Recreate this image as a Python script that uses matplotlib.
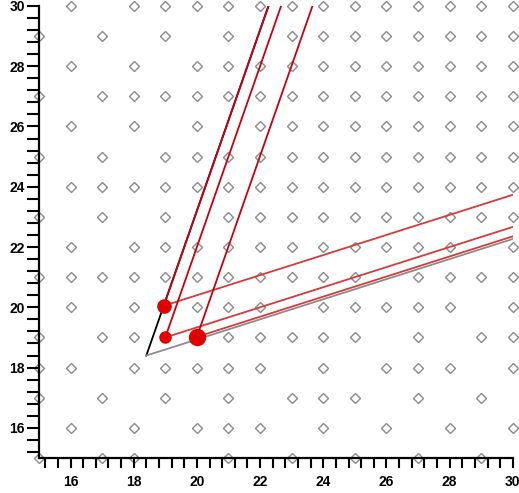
import numpy as np
import matplotlib
matplotlib.use("Agg")
import matplotlib.pyplot as plt
from matplotlib.ticker import FixedLocator

# grille de losanges : pour chaque ligne y, les x presents
grille = {
    30: [16, 18, 19, 20, 21, 22, 23, 24, 25, 26, 27, 28, 29, 30],
    29: [15, 17, 19, 21, 23, 24, 25, 26, 27, 28, 29, 30],
    28: [16, 18, 20, 21, 22, 23, 24, 25, 26, 27, 28, 29, 30],
    27: [15, 17, 18, 19, 20, 21, 22, 23, 24, 25, 26, 27, 28, 29, 30],
    26: [16, 18, 20, 22, 23, 24, 25, 26, 27, 28, 29, 30],
    25: [15, 17, 19, 20, 21, 22, 23, 24, 25, 26, 27, 28, 29, 30],
    24: [16, 17, 18, 19, 20, 21, 22, 23, 24, 25, 26, 27, 28, 29, 30],
    23: [15, 17, 19, 21, 22, 23, 24, 25, 26, 27, 28, 29, 30],
    22: [16, 18, 19, 20, 21, 22, 23, 24, 25, 26, 27, 28, 30],
    21: [15, 16, 17, 18, 19, 20, 21, 22, 23, 24, 25, 27, 28, 29, 30],
    20: [16, 18, 19, 20, 21, 22, 24, 25, 26, 27, 28, 30],
    19: [15, 17, 18, 19, 20, 21, 22, 23, 24, 25, 27, 29, 30],
    18: [15, 16, 18, 19, 20, 21, 22, 24, 26, 27, 28, 30],
    17: [15, 17, 19, 21, 23, 24, 25, 27, 29],
    16: [16, 18, 20, 21, 22, 24, 26, 28, 30],
    15: [15, 17, 18, 21, 23, 25, 27, 29],
}

# sommet des deux droites de reference et leurs pentes
sommet = (18.4, 18.4)
pente_raide = 3.0
pente_douce = 1.0 / 3.0

# points rouges
points_x = [18.95, 19.0, 20.0]
points_y = [20.05, 19.0, 19.02]
tailles = [9.5, 8, 11.5]

fig = plt.figure(figsize=(5.19, 4.93), dpi=100)
ax = fig.add_axes([0.075, 0.071, 0.913, 0.917])

gx = [x for y in grille for x in grille[y]]
gy = [y for y in grille for x in grille[y]]
ax.plot(gx, gy, linestyle="none", marker="D", markersize=4.6, markerfacecolor="none",
        markeredgecolor="#8a8a8a", markeredgewidth=1.0, clip_on=False, zorder=1)

longueur = 20.0
# droite noire (raide) et grise (douce) depuis le sommet
ax.plot([sommet[0], sommet[0] + longueur], [sommet[1], sommet[1] + pente_raide * longueur],
        color="black", lw=1.3, zorder=2)
ax.plot([sommet[0], sommet[0] + longueur], [sommet[1], sommet[1] + pente_douce * longueur],
        color="#8c8c8c", lw=1.3, zorder=2)

for px, py in zip(points_x, points_y):
    ax.plot([px, px + longueur], [py, py + pente_raide * longueur], color="#c80010", lw=1.3, zorder=3)
    ax.plot([px, px + longueur], [py, py + pente_douce * longueur], color="#d83a3a", lw=1.3, zorder=3)

for px, py, t in zip(points_x, points_y, tailles):
    ax.plot(px, py, "o", color="#e00000", markersize=t, zorder=4)

ax.set_xlim(15, 30)
ax.set_ylim(15, 30)
for cote in ["top", "right"]:
    ax.spines[cote].set_visible(False)
for cote in ["left", "bottom"]:
    ax.spines[cote].set_linewidth(1.6)

ax.xaxis.set_major_locator(FixedLocator(range(16, 31, 2)))
ax.yaxis.set_major_locator(FixedLocator(range(16, 31, 2)))
mineurs = np.round(np.arange(30, 15, -0.4), 2)
ax.xaxis.set_minor_locator(FixedLocator(mineurs))
ax.yaxis.set_minor_locator(FixedLocator(mineurs))
ax.tick_params(axis="y", which="both", direction="out", length=8.5, width=1.5, pad=1.5)
ax.tick_params(axis="x", which="both", direction="out", length=7, width=1.5, pad=5)

for lab in ax.get_xticklabels() + ax.get_yticklabels():
    lab.set_fontfamily("Liberation Sans")
    lab.set_fontweight("bold")
    lab.set_fontsize(10)

fig.savefig("out.png", dpi=100)
